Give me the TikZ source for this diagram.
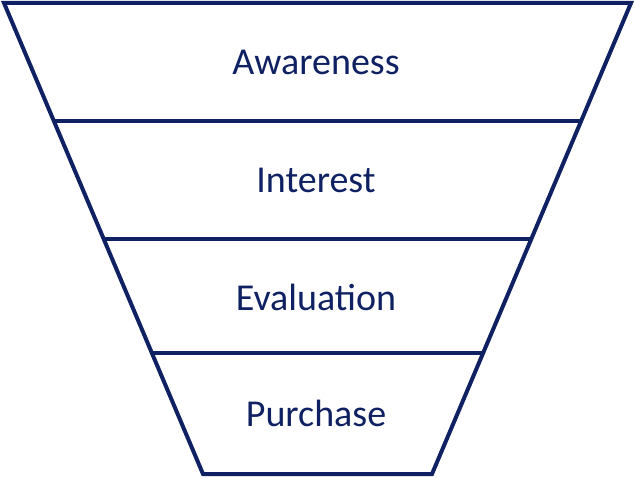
\documentclass[tikz,border=0pt]{standalone}
\usepackage{fontspec}
\setmainfont{Carlito}
\usetikzlibrary{calc}
\definecolor{navy}{HTML}{0F2162}
\begin{document}
\begin{tikzpicture}[x=1pt,y=-1pt,
  edge/.style={draw=navy,line width=4pt,line join=miter},
  lbl/.style={text=navy,font=\fontsize{38}{44}\selectfont}]
\useasboundingbox (0,0) rectangle (635,478);
\coordinate (tl) at (4,3);
\coordinate (tr) at (631,3);
\coordinate (bl) at (203,474);
\coordinate (br) at (432,474);
\draw[edge] (tl) -- (tr) -- (br) -- (bl) -- cycle;
\foreach \y/\n in {121/a,239/b,353/c}{
  \coordinate (l\n) at ($(tl)!{(\y-3)/471}!(bl)$);
  \coordinate (r\n) at ($(tr)!{(\y-3)/471}!(br)$);
  \draw[edge] (l\n) -- (r\n);
}
\node[lbl] (aw) at (316,62) {Awareness};
\node[lbl] (in) at (316,180) {Interest};
\node[lbl] (ev) at (316,297) {Evaluation};
\node[lbl] (pu) at (316,413) {Purchase};
\end{tikzpicture}
\end{document}
